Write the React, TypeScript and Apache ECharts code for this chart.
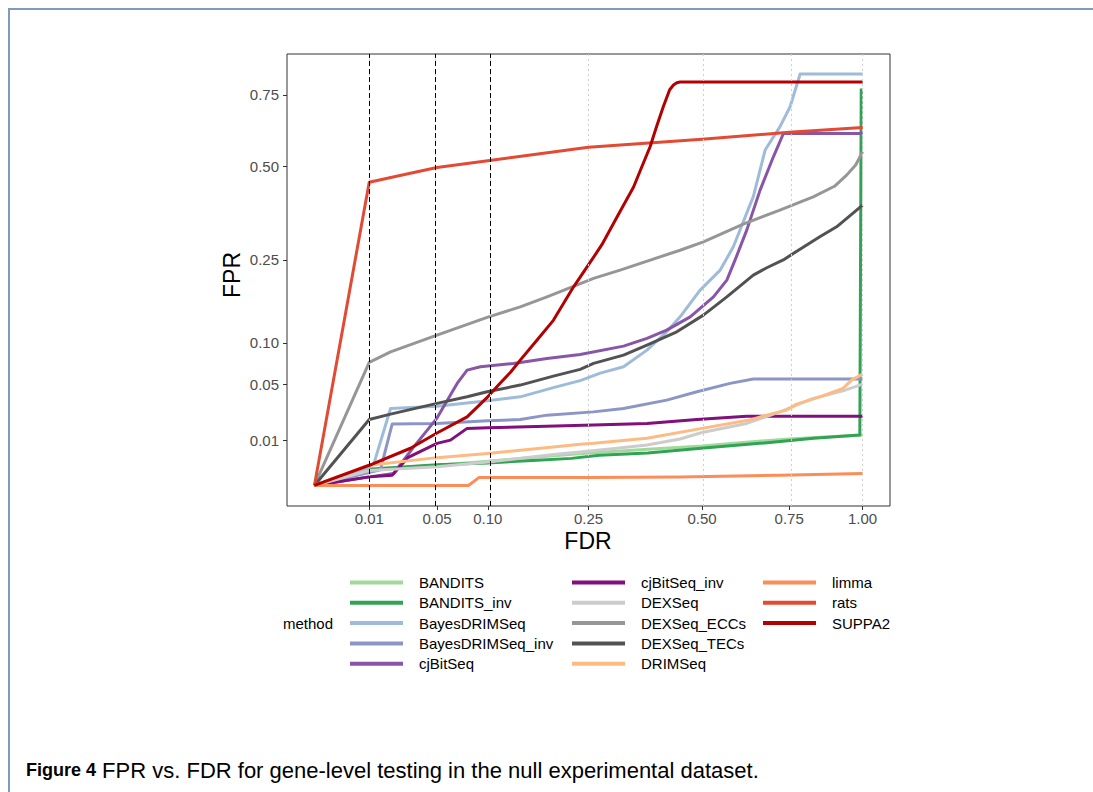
import React, { useEffect, useRef } from "react";
import * as echarts from "echarts";

const FONT = "'Liberation Sans', Arial, Helvetica, sans-serif";

// Methods (legend / draw order)
const methods = [
  "BANDITS", "BANDITS_inv", "BayesDRIMSeq", "BayesDRIMSeq_inv", "cjBitSeq",
  "cjBitSeq_inv", "DEXSeq", "DEXSeq_ECCs", "DEXSeq_TECs", "DRIMSeq",
  "limma", "rats", "SUPPA2",
];
const methodColors = [
  "#a1d99b", "#31a354", "#9ebcda", "#8c96c6", "#8856a7",
  "#810f7c", "#cccccc", "#969696", "#525252", "#fdbb84",
  "#fc8d59", "#e34a33", "#b30000",
];

// Curves: [FDR, FPR]
const BANDITS = [[0,0],[0.01,0.0013],[0.05,0.002],[0.1,0.0029],[0.19,0.0043],[0.25,0.0052],[0.37,0.0064],[0.5,0.0076],[0.62,0.0092],[0.75,0.0106],[0.85,0.0114],[1,0.0125]];
const BANDITS_inv = [[0,0],[0.01,0.0013],[0.05,0.0021],[0.1,0.0025],[0.165,0.0031],[0.22,0.0036],[0.27,0.0045],[0.37,0.0052],[0.49,0.0067],[0.66,0.0087],[0.83,0.0109],[0.99,0.0125],[0.995,0.775]];
const BayesDRIMSeq = [[0,0],[0.01,0.0016],[0.0118,0.0024],[0.0193,0.0291],[0.05,0.0309],[0.1,0.0352],[0.141,0.0386],[0.19,0.047],[0.235,0.054],[0.272,0.062],[0.318,0.0692],[0.368,0.09],[0.413,0.116],[0.445,0.1397],[0.495,0.1875],[0.548,0.228],[0.584,0.28],[0.641,0.41],[0.676,0.553],[0.721,0.632],[0.753,0.705],[0.785,0.832],[1,0.832]];
const BayesDRIMSeq_inv = [[0,0],[0.0145,0.0012],[0.0201,0.0185],[0.05,0.0189],[0.1,0.0205],[0.141,0.0214],[0.18,0.0243],[0.259,0.0266],[0.318,0.0291],[0.413,0.0358],[0.487,0.0431],[0.575,0.0512],[0.641,0.0556],[1,0.0556]];
const cjBitSeq = [[0,0],[0.01,0.00036],[0.0209,0.0007],[0.0327,0.0072],[0.05,0.0223],[0.0678,0.0512],[0.0776,0.0654],[0.0917,0.0692],[0.132,0.0732],[0.18,0.0793],[0.235,0.0844],[0.318,0.0954],[0.368,0.1063],[0.413,0.1186],[0.47,0.1397],[0.53,0.1749],[0.566,0.2072],[0.589,0.25],[0.622,0.3204],[0.661,0.4287],[0.701,0.531],[0.732,0.609],[1,0.609]];
const cjBitSeq_inv = [[0,0],[0.01,0.00036],[0.0201,0.00052],[0.029,0.0038],[0.05,0.0087],[0.0616,0.0101],[0.0776,0.016],[0.1,0.0163],[0.259,0.0179],[0.368,0.0189],[0.487,0.0214],[0.622,0.0236],[1,0.0236]];
const DEXSeq = [[0,0],[0.01,0.0011],[0.05,0.0017],[0.1,0.0027],[0.19,0.0047],[0.235,0.0055],[0.3,0.0067],[0.368,0.008],[0.445,0.0106],[0.5,0.0138],[0.622,0.0189],[0.721,0.0266],[0.828,0.0372],[0.93,0.044],[1,0.0505]];
const DEXSeq_ECCs = [[0,0],[0.01,0.0744],[0.0193,0.0877],[0.05,0.111],[0.0993,0.1388],[0.141,0.1568],[0.18,0.1749],[0.2593,0.2107],[0.311,0.228],[0.445,0.272],[0.5035,0.2917],[0.612,0.3357],[0.721,0.3726],[0.828,0.4095],[0.9,0.44],[0.9426,0.4734],[0.975,0.505],[1,0.547]];
const DEXSeq_TECs = [[0,0],[0.01,0.0214],[0.0193,0.025],[0.05,0.0331],[0.0776,0.0386],[0.0993,0.0431],[0.141,0.0495],[0.19,0.0587],[0.235,0.0662],[0.2593,0.0732],[0.318,0.0835],[0.368,0.0968],[0.437,0.116],[0.5035,0.1426],[0.566,0.1749],[0.641,0.2174],[0.681,0.233],[0.7316,0.25],[0.763,0.2646],[0.85,0.3038],[0.9075,0.3288],[1,0.3863]];
const DRIMSeq = [[0,0],[0.01,0.002],[0.05,0.0038],[0.1,0.005],[0.141,0.0061],[0.19,0.0073],[0.235,0.0083],[0.26,0.0087],[0.368,0.0109],[0.5,0.016],[0.63,0.021],[0.681,0.0243],[0.742,0.0279],[0.774,0.0325],[0.85,0.0386],[0.93,0.0463],[0.96,0.0545],[1,0.0609]];
const limma = [[0,0],[0.079,0],[0.09,0.0003],[0.25,0.0003],[0.445,0.00036],[0.72,0.0005],[1,0.0007]];
const rats = [[0,0],[0.01,0.452],[0.025,0.473],[0.05,0.497],[0.1,0.518],[0.15,0.535],[0.25,0.562],[0.5,0.589],[0.75,0.613],[1,0.63]];
const SUPPA2 = [[0,0],[0.01,0.002],[0.0307,0.0068],[0.05,0.0135],[0.0776,0.0231],[0.1,0.0386],[0.115,0.0515],[0.128,0.063],[0.141,0.0772],[0.165,0.104],[0.19,0.134],[0.2235,0.194],[0.256,0.25],[0.275,0.285],[0.305,0.355],[0.339,0.438],[0.357,0.5],[0.375,0.564],[0.39,0.635],[0.405,0.705],[0.42,0.77],[0.429,0.788],[0.437,0.797],[0.445,0.8],[1,0.8]];

const curves = [
  BANDITS, BANDITS_inv, BayesDRIMSeq, BayesDRIMSeq_inv, cjBitSeq,
  cjBitSeq_inv, DEXSeq, DEXSeq_ECCs, DEXSeq_TECs, DRIMSeq,
  limma, rats, SUPPA2,
];

const xTicks = [0.01, 0.05, 0.1, 0.25, 0.5, 0.75, 1];
const xTickLabels = ["0.01", "0.05", "0.10", "0.25", "0.50", "0.75", "1.00"];
const yTicks = [0.01, 0.05, 0.1, 0.25, 0.5, 0.75];
const yTickLabels = ["0.01", "0.05", "0.10", "0.25", "0.50", "0.75"];
const fdrThresholds = [0.01, 0.05, 0.1];

const legendColumns = [
  ["BANDITS", "BANDITS_inv", "BayesDRIMSeq", "BayesDRIMSeq_inv", "cjBitSeq"],
  ["cjBitSeq_inv", "DEXSeq", "DEXSeq_ECCs", "DEXSeq_TECs", "DRIMSeq"],
  ["limma", "rats", "SUPPA2"],
];

const captionLabel = "Figure 4";
const caption = "FPR vs. FDR for gene-level testing in the null experimental dataset.";

const sq = (v: number) => Math.sqrt(v);

function labelFor(v: number, ticks: number[], labels: string[]) {
  for (let i = 0; i < ticks.length; i++) {
    if (Math.abs(sq(ticks[i]) - v) < 1e-6) return labels[i];
  }
  return "";
}

export default function App() {
  const ref = useRef<HTMLDivElement>(null);
  useEffect(() => {
    document.body.style.margin = "0";
    const chart = echarts.init(ref.current!, null, { renderer: "svg" });
    const legendLefts = [350, 572, 763];
    const option: any = {
      animation: false,
      backgroundColor: "#ffffff",
      textStyle: { fontFamily: FONT },
      grid: {
        left: 287, top: 54, width: 603, height: 452,
        show: true, borderColor: "#333333", borderWidth: 1,
      },
      xAxis: {
        type: "value", min: -0.05, max: 1.05,
        splitLine: { show: false },
        axisLine: { show: false, onZero: false },
        axisTick: { show: true, length: 4, lineStyle: { color: "#333333" }, customValues: xTicks.map(sq) },
        axisLabel: {
          customValues: xTicks.map(sq),
          formatter: (v: number) => labelFor(v, xTicks, xTickLabels),
          color: "#4d4d4d", fontSize: 15, margin: 5, fontFamily: FONT,
        },
      },
      yAxis: {
        type: "value", min: -0.0456, max: 0.9566,
        splitLine: { show: false },
        axisLine: { show: false, onZero: false },
        axisTick: { show: true, length: 4, lineStyle: { color: "#333333" }, customValues: yTicks.map(sq) },
        axisLabel: {
          customValues: yTicks.map(sq),
          formatter: (v: number) => labelFor(v, yTicks, yTickLabels),
          color: "#4d4d4d", fontSize: 15, margin: 8, fontFamily: FONT,
        },
      },
      legend: legendColumns.map((names, i) => ({
        data: names,
        orient: "vertical",
        left: legendLefts[i],
        top: 575,
        padding: 0,
        itemWidth: 53,
        itemHeight: 4,
        itemGap: 5.3,
        icon: "rect",
        selectedMode: false,
        textStyle: { fontSize: 15, color: "#000000", fontFamily: FONT, padding: [0, 0, 0, 11] },
      })),
      series: [
        {
          type: "line", name: "__grid", data: [], silent: true, z: 1,
          markLine: {
            silent: true, symbol: ["none", "none"], label: { show: false },
            lineStyle: { color: "#cfcfcf", type: [2, 3], width: 1 },
            data: xTicks.map((t) => ({ xAxis: sq(t) })),
          },
        },
        ...methods.map((m, i) => ({
          type: "line",
          name: m,
          data: curves[i].map(([f, p]) => [sq(f), sq(p)]),
          color: methodColors[i],
          itemStyle: { color: methodColors[i] },
          lineStyle: { width: 3, color: methodColors[i], join: "round" },
          symbol: "none",
          showSymbol: false,
          z: 3,
          emphasis: { disabled: true },
        })),
        {
          type: "line", name: "__thr", data: [], silent: true, z: 10,
          markLine: {
            silent: true, symbol: ["none", "none"], label: { show: false },
            lineStyle: { color: "#000000", type: [5, 3], width: 1 },
            data: fdrThresholds.map((t) => ({ xAxis: sq(t) })),
          },
        },
      ],
      graphic: [
        {
          type: "rect", silent: true, z: 0,
          shape: { x: 9, y: 9, width: 1200, height: 900 },
          style: { fill: "none", stroke: "#7f9bb7", lineWidth: 2 },
        },
        {
          type: "text", x: 232, y: 275, rotation: Math.PI / 2,
          style: { text: "FPR", fontSize: 23, fill: "#000", fontFamily: FONT, align: "center", verticalAlign: "middle" },
        },
        {
          type: "text", x: 588, y: 541,
          style: { text: "FDR", fontSize: 23, fill: "#000", fontFamily: FONT, align: "center", verticalAlign: "middle" },
        },
        {
          type: "text", x: 283, y: 623,
          style: { text: "method", fontSize: 15, fill: "#000", fontFamily: FONT, align: "left", verticalAlign: "middle" },
        },
        {
          type: "text", x: 26, y: 770,
          style: {
            text: "{b|" + captionLabel + "} " + caption,
            fontSize: 22, fill: "#000", fontFamily: FONT, align: "left", verticalAlign: "middle",
            rich: { b: { fontWeight: "bold", fontSize: 18, fontFamily: FONT } },
          },
        },
      ],
    };
    chart.setOption(option);
    return () => chart.dispose();
  }, []);
  return <div ref={ref} style={{ width: 1093, height: 792 }} />;
}
